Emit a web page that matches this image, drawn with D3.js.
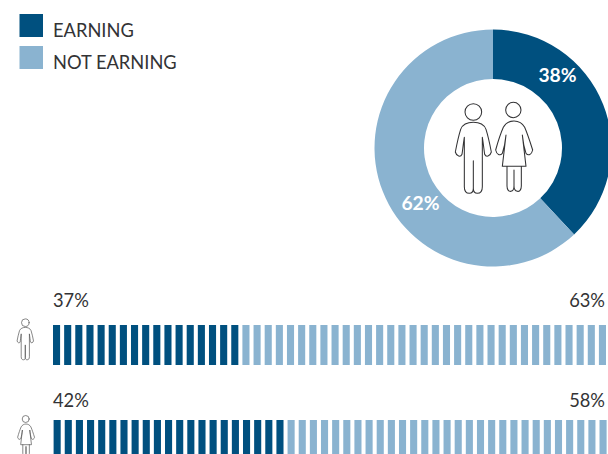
<!DOCTYPE html>
<html><head><meta charset="utf-8">
<script src="https://cdnjs.cloudflare.com/ajax/libs/d3/7.8.5/d3.min.js"></script>
<style>html,body{margin:0;padding:0;background:#fff;overflow:hidden}svg{display:block;font-family:Lato,sans-serif}</style>
</head><body><svg id="c" width="608" height="454"></svg>
<script>
const categories = ["EARNING","NOT EARNING"];
const overallValues = [38,62];
const rowNames = ["men","women"];
const rowEarningLabels = ["37%","42%"];
const rowNotEarningLabels = ["63%","58%"];
const rowEarningUnits = [17,21];
const unitsPerRow = 50;

const colors = d3.scaleOrdinal().domain(categories).range(["#00507f","#8ab3d0"]);
const svg = d3.select("#c");
const ink = "#333335";

// legend
svg.selectAll(".lg").data(categories).join("rect")
  .attr("x",19.5).attr("y",(d,i)=>i?46:14).attr("width",23.5).attr("height",23).attr("fill",d=>colors(d));
svg.selectAll(".lt").data(categories).join("text")
  .attr("x",53).attr("y",(d,i)=>i?68.5:36.5).attr("font-size",18.3).attr("fill",ink).text(d=>d);

// donut
const pie = d3.pie().sort(null)(overallValues);
const arc = d3.arc().innerRadius(69).outerRadius(118.5);
const g = svg.append("g").attr("transform","translate(493,148)");
g.selectAll("path").data(pie).join("path").attr("d",arc).attr("fill",(d,i)=>colors(categories[i]));
g.selectAll("text").data(pie).join("text")
  .attr("transform",(d,i)=>i?"translate(-72.5,55)":"translate(64.5,-73)")
  .attr("text-anchor","middle").attr("dy","0.35em")
  .attr("font-size",19.3).attr("font-weight",700).attr("fill","#fff").text(d=>d.value+"%");

// icons (drawn in a 3x unit space)
function man(sel){
  sel.append("circle").attr("cx",100).attr("cy",66).attr("r",25);
  sel.append("path").attr("d","M73,142C70,160 68,180 66,193C62,202 50,200 46,186C50,165 55,140 62,118C68,103 85,97 100,97C115,97 132,103 138,118C145,140 150,165 154,186C150,200 138,202 134,193C132,180 130,160 127,142M73,142L73,290C73,305 80,310 88,310C95,310 100,306 100,295L100,212L100,295C100,306 105,310 112,310C120,310 127,305 127,290L127,142");
}
function woman(sel){
  sel.append("circle").attr("cx",220).attr("cy",60).attr("r",23);
  sel.append("path").attr("d","M198,135C196,155 192,175 187,190C180,198 170,194 167,180C174,155 182,130 190,112C197,99 210,93 222,93C234,93 247,99 254,112C262,130 270,155 278,180C275,194 265,198 258,190C253,175 249,155 247,135M198,135L187,229L258,229L247,135M201,229L201,288C201,300 207,305 213,304C219,303 222,298 222,288L222,240L222,288C222,298 226,303 232,304C238,305 244,300 244,288L244,229");
}
function icon(draw,tx,ty,s,sw,col){
  const n = svg.append("g").attr("transform",`translate(${tx},${ty}) scale(${s})`)
    .attr("fill","none").attr("stroke",col).attr("stroke-width",sw/s).attr("stroke-linejoin","round").attr("stroke-linecap","round");
  draw(n);
}
icon(man,440,90,1/3,1.05,ink);
icon(woman,440,90,1/3,1.05,ink);
icon(man,25.3-100*0.152,322.7-66*0.152,0.152,0.7,"#555");
icon(woman,25.7-220*0.152,419-60*0.152,0.152,0.7,"#555");

// unit bars
const x = d3.scaleBand().domain(d3.range(unitsPerRow)).range([53,606]).paddingInner(4/11).paddingOuter(0).align(0);
const rowY = d3.scaleOrdinal().domain(rowNames).range([325,420]);
const labelY = d3.scaleOrdinal().domain(rowNames).range([307,407]);
rowNames.forEach((r,ri)=>{
  svg.selectAll(".b"+ri).data(d3.range(unitsPerRow)).join("rect")
    .attr("x",i=>x(i)+ri*0.6).attr("y",rowY(r)).attr("width",x.bandwidth()).attr("height",40)
    .attr("fill",i=>colors(categories[i<rowEarningUnits[ri]?0:1]));
  svg.append("text").attr("x",53).attr("y",labelY(r)).attr("font-size",18.3).attr("fill",ink).text(rowEarningLabels[ri]);
  svg.append("text").attr("x",605).attr("y",labelY(r)).attr("text-anchor","end").attr("font-size",18.3).attr("fill",ink).text(rowNotEarningLabels[ri]);
});
</script></body></html>
